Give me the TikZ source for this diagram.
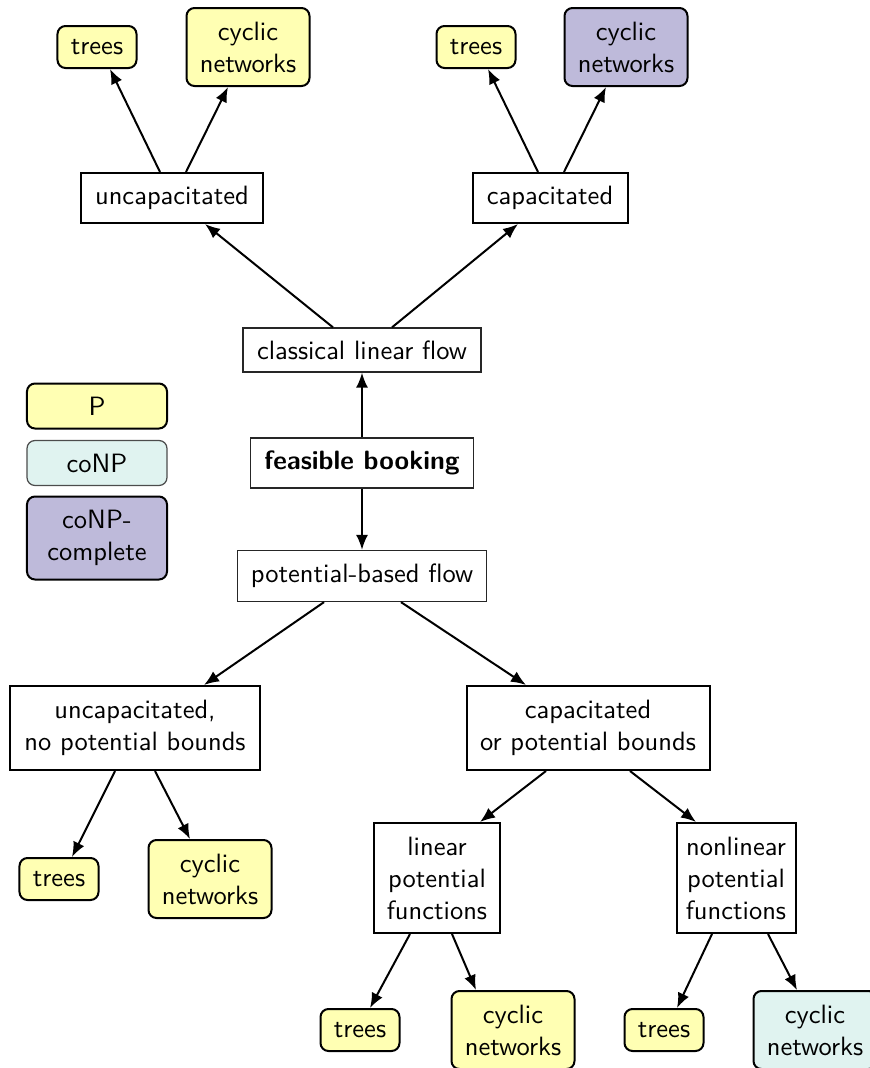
\documentclass[tikz,border=0pt]{standalone}
\usetikzlibrary{arrows.meta,calc}
\definecolor{cP}{HTML}{FFFFB3}
\definecolor{cCo}{HTML}{E0F3F0}
\definecolor{cCc}{HTML}{BEBADA}
\begin{document}
\begin{tikzpicture}[x=0.4pt,y=-0.4pt,
  font=\sffamily\fontsize{10.6}{12.8}\selectfont,
  base/.style={align=center,inner sep=0pt},
  sq/.style={base,draw,thick},
  sqthin/.style={base,draw=black!85,line width=0.5pt},
  pbox/.style={base,draw,thick,rounded corners=3.2pt,fill=cP},
  cobox/.style={base,draw=black!70,line width=0.5pt,rounded corners=3.2pt,fill=cCo},
  ccbox/.style={base,draw,thick,rounded corners=3.2pt,fill=cCc},
  treesz/.style={minimum width=31.6pt,minimum height=16.8pt},
  cycsz/.style={minimum width=49.2pt,minimum height=31.2pt},
  arr/.style={-{Latex[length=6pt,width=4.8pt]},thick}]
\useasboundingbox (0,0) rectangle (870,1068);
% top
\node[pbox,treesz] (t1) at (97,47) {trees};
\node[pbox,cycsz] (c1) at (248,47) {cyclic\\networks};
\node[sq,minimum width=72.4pt,minimum height=20pt] (u1) at (172,198) {uncapacitated};
\node[pbox,treesz] (t2) at (476,47) {trees};
\node[ccbox,cycsz] (c2) at (626,47) {cyclic\\networks};
\node[sq,minimum width=62pt,minimum height=20pt] (k1) at (550,198) {capacitated};
\node[sqthin,minimum width=95.2pt,minimum height=17.6pt] (cl) at (362,350) {classical linear flow};
% legend
\node[pbox,minimum width=56pt,minimum height=18pt] (lP) at (97,406) {P};
\node[cobox,minimum width=56pt,minimum height=18pt] (lC) at (97,463) {coNP};
\node[ccbox,minimum width=56pt,minimum height=33.2pt] (lCC) at (97,538) {coNP-\\complete};
% middle
\node[sqthin,minimum width=89.2pt,minimum height=20pt] (fb) at (362,463) {\bfseries feasible booking};
\node[sqthin,minimum width=99.6pt,minimum height=20.4pt] (pb) at (362,576) {potential-based flow};
% lower
\node[sq,minimum width=99.6pt,minimum height=33.6pt] (u2) at (135,728) {uncapacitated,\\no potential bounds};
\node[sq,minimum width=97.2pt,minimum height=33.6pt] (k2) at (588,728) {capacitated\\or potential bounds};
\node[pbox,treesz] (t3) at (59,879) {trees};
\node[pbox,cycsz] (c3) at (210,879) {cyclic\\networks};
\node[sq,minimum width=50.4pt,minimum height=44pt] (lin) at (437,878) {linear\\potential\\functions};
\node[sq,minimum width=47.6pt,minimum height=44pt] (nl) at (736,878) {nonlinear\\potential\\functions};
\node[pbox,treesz] (t4) at (360,1030) {trees};
\node[pbox,cycsz] (c4) at (513,1030) {cyclic\\networks};
\node[pbox,treesz] (t5) at (664,1030) {trees};
\node[cobox,thick,draw=black,cycsz] (c5) at (815,1030) {cyclic\\networks};
% arrows
\draw[arr] ($(u1.north)+(-12,0)$) -- ($(t1.south)+(13,0)$);
\draw[arr] ($(u1.north)+(14,0)$) -- ($(c1.south)+(-20,0)$);
\draw[arr] ($(k1.north)+(-12,0)$) -- ($(t2.south)+(12,0)$);
\draw[arr] ($(k1.north)+(14,0)$) -- ($(c2.south)+(-20,0)$);
\draw[arr] ($(cl.north)+(-29,0)$) -- ($(u1.south)+(33,0)$);
\draw[arr] ($(cl.north)+(30,0)$) -- ($(k1.south)+(-32,0)$);
\draw[arr] (fb.north) -- (cl.south);
\draw[arr] (fb.south) -- (pb.north);
\draw[arr] ($(pb.south)+(-38,0)$) -- ($(u2.north)+(69,0)$);
\draw[arr] ($(pb.south)+(39,0)$) -- ($(k2.north)+(-62,0)$);
\draw[arr] ($(u2.south)+(-20,0)$) -- ($(t3.north)+(13,0)$);
\draw[arr] ($(u2.south)+(20,0)$) -- ($(c3.north)+(-20,0)$);
\draw[arr] ($(k2.south)+(-42,0)$) -- ($(lin.north)+(43,0)$);
\draw[arr] ($(k2.south)+(42,0)$) -- ($(nl.north)+(-40,0)$);
\draw[arr] ($(lin.south)+(-27,0)$) -- ($(t4.north)+(10,0)$);
\draw[arr] ($(lin.south)+(15,0)$) -- ($(c4.north)+(-37,0)$);
\draw[arr] ($(nl.south)+(-24,0)$) -- ($(t5.north)+(13,0)$);
\draw[arr] ($(nl.south)+(32,0)$) -- ($(c5.north)+(-18,0)$);
\end{tikzpicture}
\end{document}
